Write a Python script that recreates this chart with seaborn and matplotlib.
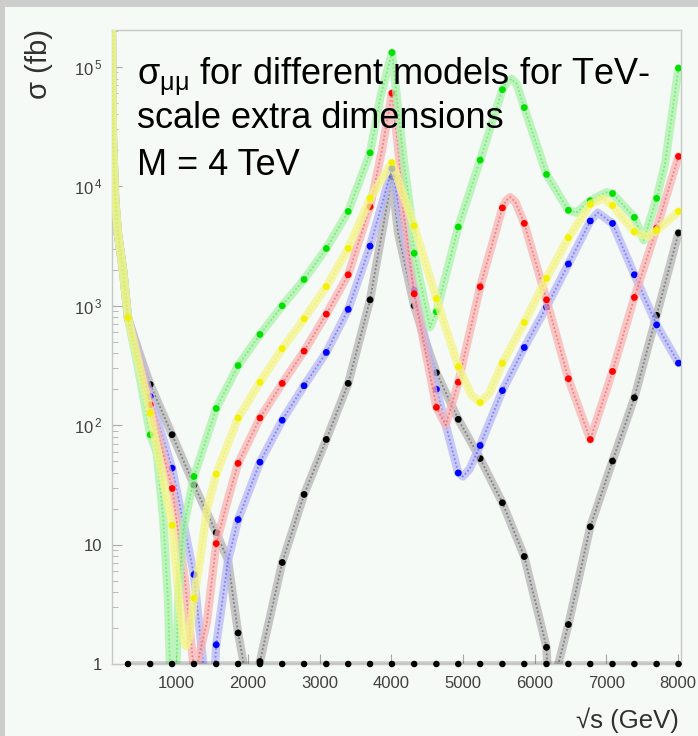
import matplotlib
matplotlib.use("Agg")
import matplotlib.pyplot as plt
import numpy as np
import pandas as pd
import seaborn as sns
from matplotlib.patches import Rectangle
from matplotlib.ticker import FixedLocator, FixedFormatter, LogLocator, NullFormatter

# ---------------- data (sqrt(s) in GeV, sigma in fb) ----------------
# common steep fall at low sqrt(s), shared by all models
X_HEAD = [105, 120, 150, 190, 260]
SIG_HEAD = [2.5e5, 2.5e4, 7900, 4000, 2000]

# positions of the big solid dots
X_DOTS = [330, 640, 945, 1250, 1560, 1865, 2170, 2480, 2785, 3095, 3400, 3705, 4010,
          4320, 4630, 4935, 5240, 5550, 5855, 6165, 6470, 6775, 7085, 7390, 7700, 8005]

GREEN_X = [330, 480, 640, 730, 820, 890, 960, 1030, 1100, 1250, 1560, 1865, 2170, 2480,
           2785, 3095, 3400, 3705, 3850, 4010, 4190, 4260, 4320, 4540, 4630, 4935, 5240,
           5550, 5620, 5680, 5750, 5855, 6165, 6470, 6580, 6775, 7000, 7085, 7390, 7520,
           7700, 7820, 8005]
GREEN_S = [794, 282, 83.2, 58.9, 17, 3.24, 0.1, 3.47, 13.2, 37.2, 138, 316, 575, 1000,
           1660, 3020, 6166, 1.91e4, 5.62e4, 1.32e5, 1.38e4, 6761, 2754, 661, 891, 4571, 1.66e4,
           6.46e4, 7.6e4, 7.94e4, 7.2e4, 4.57e4, 1.26e4, 6310, 6026, 7586, 8913, 8710, 5495, 3548,
           7943, 1.58e4, 9.77e4]

RED_X = [330, 480, 640, 945, 1125, 1235, 1265, 1295, 1430, 1560, 1710, 1865, 2170, 2480,
         2785, 3095, 3400, 3705, 3870, 4010, 4095, 4170, 4320, 4630, 4760, 4935, 5240, 5550,
         5600, 5660, 5730, 5855, 6165, 6470, 6775, 7085, 7390, 7700, 8005]
RED_S = [794, 355, 148, 29.5, 5.0, 1.07, 0.1, 1.0, 2.24, 10.2, 22.4, 47.9, 115, 224,
         417, 851, 1820, 6761, 2e4, 6.03e4, 2.14e4, 6310, 1259, 141, 100, 229, 1445, 6607,
         7586, 8128, 7413, 4898, 1122, 245, 75.9, 282, 1175, 4467, 1.78e4]

YELLOW_X = [330, 480, 640, 945, 1040, 1100, 1140, 1180, 1250, 1335, 1430, 1560, 1865, 2170,
            2480, 2785, 3095, 3400, 3705, 4010, 4320, 4630, 4935, 5120, 5240, 5370, 5550, 5855,
            6165, 6470, 6775, 6950, 7085, 7390, 7570, 7700, 8005]
YELLOW_S = [794, 331, 126, 14.5, 3.55, 1.66, 1.41, 1.66, 3.55, 7.41, 19.5, 38.9, 115, 229,
            437, 776, 1445, 3020, 7943, 1.58e4, 4677, 1148, 309, 178, 155, 186, 331, 724,
            1698, 3715, 7079, 7943, 6918, 4169, 3802, 4266, 6166]

BLUE_X = [330, 480, 640, 945, 1250, 1300, 1375, 1460, 1545, 1560, 1725, 1865, 2170, 2480,
          2785, 3095, 3400, 3705, 4010, 4320, 4630, 4935, 5000, 5090, 5240, 5550, 5855, 6165,
          6470, 6775, 6880, 7085, 7390, 7700, 8005]
BLUE_S = [794, 380, 174, 43.7, 5.6, 2.82, 1.07, 0.15, 1.0, 1.45, 7.41, 16.2, 49, 110,
          214, 407, 933, 3162, 1.41e4, 1349, 200, 39.8, 37.2, 42.7, 67.6, 195, 447, 977,
          2239, 5129, 6026, 4898, 1820, 692, 331]

BLACK_X = [330, 480, 640, 945, 1250, 1560, 1725, 1865, 1935, 2060, 2170, 2480, 2785, 3095,
           3400, 3705, 4010, 4095, 4320, 4440, 4630, 4935, 5240, 5550, 5855, 6165, 6250,
           6330, 6470, 6775, 7085, 7390, 7700, 8005]
BLACK_S = [794, 417, 219, 83.2, 31.6, 12.6, 7.41, 1.82, 1.07, 0.1, 1.05, 7.08, 26.3, 75.9,
           224, 1122, 1.2e4, 4074, 1000, 589, 275, 112, 52.5, 22.4, 7.94, 1.38, 0.1,
           1.0, 2.14, 14.1, 50.1, 170, 832, 4074]

FLOOR_S = [1.0] * len(X_DOTS)   # points lying on the lower edge of the plot

Y_TICKS = [1, 10, 100, 1e3, 1e4, 1e5]
Y_LABELS = ["1", "10", r"$10^{\,2}$", r"$10^{\,3}$", r"$10^{\,4}$", r"$10^{\,5}$"]
X_TICKS = [1000, 2000, 3000, 4000, 5000, 6000, 7000, 8000]
X_LABELS = ["1000", "2000", "3000", "4000", "5000", "6000", "7000", "8000"]

# ---------------- style ----------------
sns.set_theme(style="white")
plt.rcParams["font.family"] = ["Liberation Sans", "DejaVu Sans"]
plt.rcParams["mathtext.fontset"] = "custom"
plt.rcParams["mathtext.rm"] = "Liberation Sans"
plt.rcParams["mathtext.it"] = "Liberation Sans:italic"
plt.rcParams["mathtext.bf"] = "Liberation Sans:bold"

W, H = 698, 736
PANEL = "#f6faf7"
fig = plt.figure(figsize=(W / 100, H / 100), dpi=100)
fig.patch.set_facecolor("#cdcdcd")
fig.add_artist(Rectangle((5 / W, 0), 1 - 5 / W, 1 - 7 / H, transform=fig.transFigure,
                         facecolor=PANEL, edgecolor="none", zorder=-5))

ax = fig.add_axes([112 / W, 1 - 664 / H, (681 - 112) / W, (664 - 30) / H])
ax.set_facecolor(PANEL)
ax.set_yscale("log")

# (name, x, sigma, dot colour, band colour)
series = [
    ("black", BLACK_X, BLACK_S, "#000000", "#b4b4b4"),
    ("blue", BLUE_X, BLUE_S, "#0000ff", "#b8b8f6"),
    ("red", RED_X, RED_S, "#ff0000", "#f7b4b4"),
    ("green", GREEN_X, GREEN_S, "#00e000", "#aaf2aa"),
    ("yellow", YELLOW_X, YELLOW_S, "#f2f200", "#f4f48c"),
]

z = 2
for name, xs, ss, col, band in series:
    df = pd.DataFrame({"x": X_HEAD + xs, "sigma": SIG_HEAD + ss})
    sns.lineplot(data=df, x="x", y="sigma", color=band, lw=6, alpha=0.75,
                 estimator=None, sort=False, ax=ax, zorder=z)
    sns.lineplot(data=df, x="x", y="sigma", color=col, lw=1.3, alpha=0.35,
                 linestyle=(0, (1, 1.2)), estimator=None, sort=False, ax=ax, zorder=z + 0.1)
    dots = df[df["x"].isin(X_DOTS)]
    sns.scatterplot(data=dots, x="x", y="sigma", color=col, s=24, edgecolor="none",
                    ax=ax, zorder=z + 0.2, legend=False)
    z += 1

floor = pd.DataFrame({"x": X_DOTS, "sigma": FLOOR_S})
sns.lineplot(data=floor, x="x", y="sigma", color="#000000", lw=4, alpha=0.18,
             estimator=None, ax=ax, zorder=z)
sns.scatterplot(data=floor, x="x", y="sigma", color="#000000", s=22, edgecolor="none",
                ax=ax, zorder=z + 0.2, legend=False, clip_on=False)

ax.set_xlim(107, 8040)
ax.set_ylim(1, 2.04e5)
ax.set_xlabel("")
ax.set_ylabel("")

ax.yaxis.set_major_locator(FixedLocator(Y_TICKS))
ax.yaxis.set_major_formatter(FixedFormatter(Y_LABELS))
ax.yaxis.set_minor_locator(LogLocator(base=10, subs=np.arange(2, 10)))
ax.yaxis.set_minor_formatter(NullFormatter())
ax.xaxis.set_major_locator(FixedLocator(X_TICKS))
ax.xaxis.set_major_formatter(FixedFormatter(X_LABELS))

ax.tick_params(axis="both", which="major", direction="in", length=7, width=0.8,
               color="#a8a8a8", labelsize=12, labelcolor="#404040")
ax.tick_params(axis="both", which="minor", direction="in", length=4, width=0.7, color="#b8b8b8")
ax.tick_params(axis="y", which="both", left=True, right=False, pad=7)
ax.tick_params(axis="x", which="both", bottom=True, top=False, pad=9)
for sp in ax.spines.values():
    sp.set_color("#c8c8c8")
    sp.set_linewidth(1)

fig.text(39 / W, 1 - 64 / H, "σ (fb)", rotation=90, ha="center", va="center",
         fontsize=21, color="#303030")
fig.text(679 / W, 1 - 720 / H, "√s (GeV)", ha="right", va="center",
         fontsize=18.5, color="#303030")

TXT = 26
fig.text(137 / W, 1 - 85 / H, r"σ$_{\mathrm{μμ}}$ for different models for TeV-",
         fontsize=TXT, va="baseline", ha="left", color="black")
fig.text(137 / W, 1 - 128 / H, "scale extra dimensions",
         fontsize=TXT, va="baseline", ha="left", color="black")
fig.text(137 / W, 1 - 175 / H, "M = 4 TeV",
         fontsize=TXT, va="baseline", ha="left", color="black")

fig.savefig("out.png", dpi=100, facecolor=fig.get_facecolor())
